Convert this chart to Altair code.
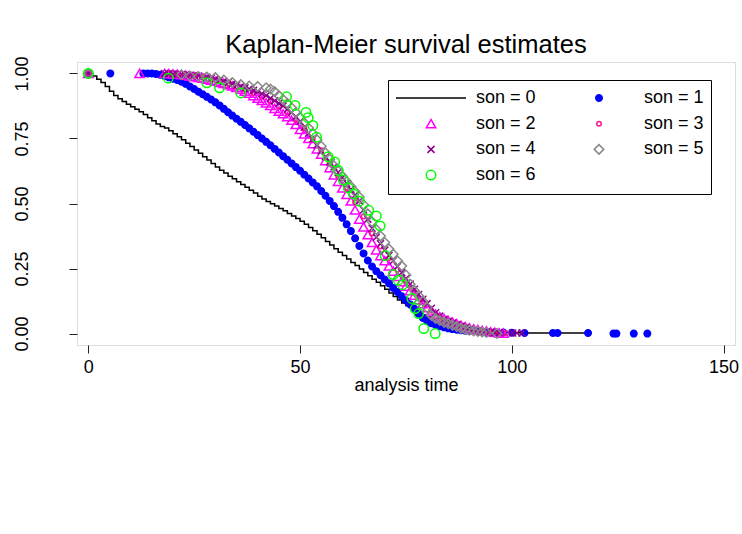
import altair as alt
import pandas as pd

FONT = "Liberation Sans"
NAMES = ["son = 0", "son = 1", "son = 2", "son = 3", "son = 4", "son = 5", "son = 6"]
COLORS = ["#000000", "#0000FF", "#FF00FF", "#FF1493", "#8B008B", "#888888", "#00FF00"]
FILLS = ["transparent", "#0000FF", "transparent", "transparent", "transparent", "transparent", "transparent"]
SHAPES = ["stroke", "circle", "triangle-up", "circle", "M-1,-1L1,1M-1,1L1,-1", "diamond", "circle"]
SIZES = [4900, 42, 90, 20, 49, 90, 90]

# son = 0 : step curve
T0 = [0, 1, 2, 3, 4, 5, 6, 7, 8, 9, 10, 11, 12, 13, 14, 15, 16, 17, 18, 19, 20, 21, 22, 23, 24, 25,
      26, 27, 28, 29, 30, 31, 32, 33, 34, 35, 36, 37, 38, 39, 40, 41, 42, 43, 44, 45, 46, 47, 48, 49,
      50, 51, 52, 53, 54, 55, 56, 57, 58, 59, 60, 61, 62, 63, 64, 65, 66, 67, 68, 69, 70, 71, 72, 73,
      74, 75, 76, 77, 78, 79, 80, 81, 82, 83, 84, 85, 86, 87, 88, 89, 90, 91, 92, 93, 94, 95, 96, 97,
      98, 100, 102, 118]
S0 = [1.000, 0.990, 0.978, 0.965, 0.950, 0.932, 0.915, 0.903, 0.892, 0.882, 0.872, 0.862, 0.853,
      0.842, 0.830, 0.818, 0.806, 0.796, 0.790, 0.780, 0.768, 0.757, 0.745, 0.732, 0.719, 0.706,
      0.693, 0.680, 0.667, 0.654, 0.640, 0.628, 0.617, 0.605, 0.595, 0.584, 0.573, 0.562, 0.551,
      0.540, 0.528, 0.517, 0.508, 0.499, 0.490, 0.481, 0.472, 0.462, 0.452, 0.442, 0.432, 0.420,
      0.408, 0.395, 0.382, 0.368, 0.354, 0.340, 0.326, 0.313, 0.300, 0.287, 0.273, 0.262, 0.248,
      0.235, 0.222, 0.209, 0.197, 0.184, 0.170, 0.156, 0.142, 0.129, 0.117, 0.107, 0.098, 0.088,
      0.079, 0.071, 0.064, 0.057, 0.050, 0.044, 0.039, 0.034, 0.029, 0.025, 0.021, 0.018, 0.015,
      0.013, 0.011, 0.009, 0.008, 0.007, 0.006, 0.005, 0.004, 0.003, 0.002, 0.002]

# son = 1 : filled blue dots
T1 = [0, 5.2, 13, 14, 15, 16, 17, 18, 19, 20, 21, 22, 23, 24, 25, 26, 27, 28, 29, 30, 31, 32, 33,
      34, 35, 36, 37, 38, 39, 40, 41, 42, 43, 44, 45, 46, 47, 48, 49, 50, 51, 52, 53, 54, 55, 56,
      57, 58, 59, 60, 61, 62, 63, 64, 65, 66, 67, 68, 69, 70, 71, 72, 73, 74, 75, 76, 77, 78, 79,
      80, 81, 82, 83, 84, 85, 86, 87, 88, 89, 90, 92, 94, 96, 98, 100, 103, 109.7, 110.8, 118,
      124, 124.7, 128.8, 132]
S1 = [1.0, 1.0, 1.0, 1.0, 1.0, 0.998, 0.995, 0.990, 0.985, 0.980, 0.975, 0.968, 0.960, 0.950,
      0.940, 0.930, 0.920, 0.910, 0.900, 0.889, 0.877, 0.864, 0.851, 0.838, 0.826, 0.814, 0.802,
      0.789, 0.776, 0.763, 0.750, 0.737, 0.724, 0.710, 0.696, 0.682, 0.668, 0.654, 0.640, 0.626,
      0.611, 0.596, 0.581, 0.566, 0.548, 0.530, 0.510, 0.490, 0.468, 0.445, 0.420, 0.394, 0.366,
      0.337, 0.308, 0.281, 0.258, 0.240, 0.224, 0.208, 0.193, 0.175, 0.160, 0.143, 0.127, 0.112,
      0.095, 0.076, 0.060, 0.048, 0.040, 0.033, 0.028, 0.024, 0.020, 0.017, 0.015, 0.013, 0.011,
      0.010, 0.008, 0.006, 0.005, 0.004, 0.003, 0.002, 0.002, 0.002, 0.002, 0.0, 0.0, 0.0, 0.0]

# son = 2 : magenta triangles
T2 = [0, 12.1, 18, 19, 20, 21, 22, 23, 24, 25, 26, 27, 28, 29, 30, 31, 32, 33, 34, 35, 36, 37, 38,
      39, 40, 41, 42, 43, 44, 45, 46, 47, 48, 49, 50, 51, 52, 53, 54, 55, 56, 57, 58, 59, 60, 61,
      62, 63, 64, 65, 66, 67, 68, 69, 70, 71, 72, 73, 74, 75, 76, 77, 78, 79, 80, 81, 82, 83, 84,
      85, 86, 87, 88, 89, 90, 91, 92, 93, 94, 95, 96, 97, 98]
S2 = [1.0, 1.0, 1.0, 0.999, 0.998, 0.997, 0.995, 0.993, 0.990, 0.988, 0.985, 0.982, 0.978, 0.974,
      0.970, 0.966, 0.962, 0.957, 0.952, 0.946, 0.940, 0.932, 0.924, 0.915, 0.905, 0.896, 0.887,
      0.877, 0.866, 0.855, 0.845, 0.834, 0.820, 0.804, 0.785, 0.768, 0.750, 0.730, 0.710, 0.690,
      0.665, 0.638, 0.610, 0.585, 0.560, 0.535, 0.510, 0.475, 0.440, 0.410, 0.380, 0.350, 0.322,
      0.300, 0.280, 0.260, 0.240, 0.220, 0.200, 0.182, 0.165, 0.148, 0.130, 0.115, 0.100, 0.087,
      0.075, 0.065, 0.057, 0.050, 0.044, 0.038, 0.032, 0.027, 0.022, 0.018, 0.015, 0.012, 0.010,
      0.007, 0.005, 0.003, 0.002]

# son = 3 : small deep-pink circles
T3 = [0, 19, 21, 23, 25, 27, 29, 31, 33, 35, 37, 39, 41, 43, 45, 47, 49, 51, 53, 55, 57, 59, 61,
      63, 65, 67, 69, 71, 73, 75, 77, 79, 81, 83, 85, 87, 89, 91, 93, 95, 97, 98.7]
S3 = [1.0, 1.0, 0.998, 0.995, 0.990, 0.985, 0.978, 0.970, 0.960, 0.950, 0.938, 0.925, 0.910,
      0.892, 0.872, 0.850, 0.822, 0.790, 0.750, 0.705, 0.655, 0.605, 0.560, 0.505, 0.450, 0.385,
      0.335, 0.290, 0.245, 0.200, 0.160, 0.120, 0.088, 0.064, 0.047, 0.034, 0.024, 0.016, 0.010,
      0.006, 0.003, 0.001]

# son = 4 : purple crosses
T4 = [0, 18, 19, 20, 21, 22, 23, 24, 25, 26, 27, 28, 29, 30, 31, 32, 33, 34, 35, 36, 37, 38, 39,
      40, 41, 42, 43, 44, 45, 46, 47, 48, 49, 50, 51, 52, 53, 54, 55, 56, 57, 58, 59, 60, 61, 62,
      63, 64, 65, 66, 67, 68, 69, 70, 71, 72, 73, 74, 75, 76, 77, 78, 79, 80, 81, 82, 83, 84, 85,
      86, 87, 88, 89, 90, 91, 92, 93, 94, 95, 96, 97, 100.2, 101.2, 102.4]
S4 = [1.0, 1.0, 0.999, 0.998, 0.997, 0.996, 0.995, 0.993, 0.992, 0.990, 0.988, 0.985, 0.982,
      0.978, 0.974, 0.970, 0.965, 0.960, 0.955, 0.950, 0.945, 0.940, 0.935, 0.930, 0.922, 0.915,
      0.905, 0.895, 0.885, 0.875, 0.862, 0.850, 0.833, 0.815, 0.793, 0.770, 0.748, 0.725, 0.702,
      0.680, 0.660, 0.640, 0.620, 0.600, 0.578, 0.555, 0.533, 0.510, 0.475, 0.440, 0.405, 0.370,
      0.345, 0.320, 0.300, 0.280, 0.258, 0.235, 0.212, 0.190, 0.170, 0.150, 0.132, 0.115, 0.097,
      0.080, 0.067, 0.055, 0.047, 0.040, 0.034, 0.028, 0.022, 0.016, 0.013, 0.010, 0.008, 0.006,
      0.005, 0.004, 0.003, 0.002, 0.002, 0.002]

# son = 5 : grey diamonds
T5 = [0, 22, 24, 26, 28, 30, 32, 34, 36, 38, 40, 42, 43, 44, 45, 46, 47, 48, 49, 50, 51, 52, 53,
      54, 55, 56, 57, 58, 59, 60, 61, 62, 63, 64, 65, 66, 67, 68, 69, 70, 71, 72, 73, 74, 75, 76,
      77, 78, 79, 80, 81, 82, 83, 84, 85, 86, 87, 88, 89, 90, 91, 92, 93, 94, 96.5]
S5 = [1.0, 0.995, 0.990, 0.988, 0.986, 0.984, 0.975, 0.965, 0.957, 0.952, 0.950, 0.945, 0.940,
      0.930, 0.915, 0.900, 0.885, 0.868, 0.850, 0.830, 0.810, 0.790, 0.770, 0.745, 0.720, 0.695,
      0.670, 0.645, 0.625, 0.605, 0.585, 0.565, 0.545, 0.525, 0.495, 0.460, 0.430, 0.400, 0.375,
      0.350, 0.325, 0.305, 0.280, 0.260, 0.225, 0.190, 0.165, 0.145, 0.125, 0.100, 0.070, 0.058,
      0.050, 0.043, 0.038, 0.032, 0.026, 0.020, 0.016, 0.013, 0.010, 0.008, 0.006, 0.004, 0.000]

# son = 6 : green circles
T6 = [0, 18.9, 28, 31, 36, 46.8, 48.8, 51.4, 51.9, 53, 53.9, 56.6, 58.2, 59, 60.2, 61.4, 62.6, 64,
      66.2, 68, 68.9, 70.1, 72, 73.2, 74.2, 76.4, 77.2, 78, 79.2, 81.9]
S6 = [1.0, 0.982, 0.964, 0.945, 0.925, 0.910, 0.877, 0.850, 0.830, 0.800, 0.755, 0.680, 0.660,
      0.627, 0.590, 0.560, 0.537, 0.509, 0.474, 0.452, 0.414, 0.300, 0.227, 0.205, 0.188, 0.135,
      0.096, 0.077, 0.019, 0.000]

line_df = pd.DataFrame({"t": T0, "s": S0, "grp": NAMES[0]})
pts = []
for name, ts, ss in [(NAMES[1], T1, S1), (NAMES[2], T2, S2), (NAMES[3], T3, S3),
                     (NAMES[4], T4, S4), (NAMES[5], T5, S5), (NAMES[6], T6, S6)]:
    pts.append(pd.DataFrame({"t": ts, "s": ss, "grp": name}))
pts_df = pd.concat(pts, ignore_index=True)

leg = alt.Legend(title=None, orient="none", legendX=311, legendY=18, columns=2,
                 direction="horizontal", clipHeight=22,
                 padding=7, strokeColor="#000000", fillColor="white",
                 labelFont=FONT, labelFontSize=18, labelColor="#000000", labelOffset=9,
                 columnPadding=27, rowPadding=3.7, symbolStrokeWidth=1.5, symbolOpacity=1,
                 labelLimit=200)

xsc = alt.Scale(domain=[-2.67, 152.7], nice=False, zero=False)
ysc = alt.Scale(domain=[-0.044, 1.044], nice=False, zero=False)
xax = alt.Axis(values=[0, 50, 100, 150], title="analysis time", grid=False, domain=False,
               tickSize=8, tickColor="#222", labelFont=FONT, labelFontSize=18,
               labelColor="#000", labelPadding=5, labelFlush=False, titleFont=FONT,
               titleFontSize=18, titleFontWeight="normal", titleColor="#000", titlePadding=0)
yax = alt.Axis(values=[0, 0.25, 0.5, 0.75, 1.0], format=".2f", title=None, grid=False,
               domain=False, tickSize=8, tickColor="#222", labelFont=FONT, labelFontSize=18,
               labelColor="#000", labelAngle=270, labelAlign="center", labelBaseline="bottom",
               labelPadding=38, labelFlush=False)

color = alt.Color("grp:N", scale=alt.Scale(domain=NAMES, range=COLORS), legend=leg)

line = alt.Chart(line_df).mark_line(interpolate="step-after", strokeWidth=1.5).encode(
    x=alt.X("t:Q", scale=xsc, axis=xax),
    y=alt.Y("s:Q", scale=ysc, axis=yax),
    color=color,
)

points = alt.Chart(pts_df).mark_point(filled=False, strokeWidth=1.5, opacity=1).encode(
    x=alt.X("t:Q", scale=xsc, axis=xax),
    y=alt.Y("s:Q", scale=ysc, axis=yax),
    color=color,
    fill=alt.Fill("grp:N", scale=alt.Scale(domain=NAMES, range=FILLS), legend=leg),
    shape=alt.Shape("grp:N", scale=alt.Scale(domain=NAMES, range=SHAPES), legend=leg),
    size=alt.Size("grp:N", scale=alt.Scale(type="ordinal", domain=NAMES, range=SIZES), legend=leg),
)

chart = alt.layer(line, points).properties(
    width=658, height=283,
    title=alt.TitleParams("Kaplan-Meier survival estimates", font=FONT, fontSize=25.5,
                          fontWeight="normal", color="#000", anchor="middle", frame="group",
                          baseline="alphabetic", offset=3, dy=26),
    autosize=alt.AutoSizeParams(type="none"),
    padding={"left": 77, "top": 62, "right": 7, "bottom": 189},
).configure_view(stroke="#222", strokeWidth=1.2).configure(background="white")

chart.save("out.html", embed_options={"renderer": "svg", "actions": False})
